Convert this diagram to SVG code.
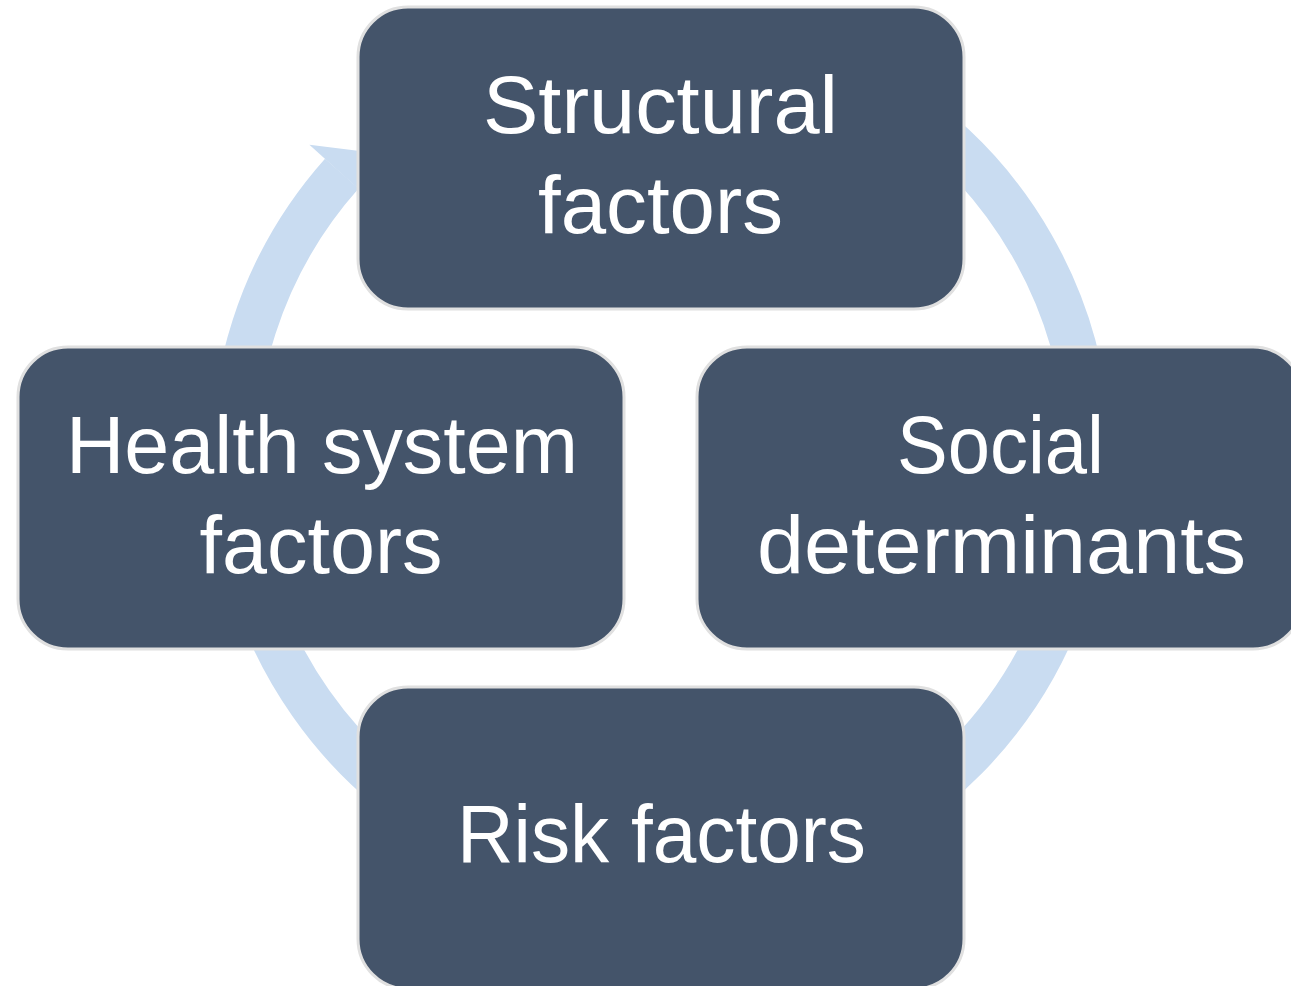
<svg xmlns="http://www.w3.org/2000/svg" width="1291" height="986" viewBox="0 0 1291 986">
  <style>
    .box { fill: #44546A; stroke: #E0E0E0; stroke-width: 3; }
    .lbl { font-family: "Liberation Sans", Arial, sans-serif; font-size: 82px; fill: #FFFFFF; text-anchor: middle; }
    .ring { fill: none; stroke: #C9DCF1; stroke-width: 45; }
    .head { fill: #C9DCF1; }
  </style>
  <rect width="1291" height="986" fill="#FFFFFF"/>
  <g id="connectors">
    <path class="ring" d="M735.2,37 A427.5,427.5 0 1 1 341.8,173.6"/>
    <polygon class="head" points="309.4,144.7 400,156 375,203.2 344,176"/>
  </g>
  <g id="node-structural">
    <rect class="box" x="358" y="7" width="606" height="302" rx="50" ry="50"/>
    <text class="lbl" x="660.5" y="133" textLength="355" lengthAdjust="spacingAndGlyphs">Structural</text>
    <text class="lbl" x="660.5" y="233" textLength="245" lengthAdjust="spacingAndGlyphs">factors</text>
  </g>
  <g id="node-social">
    <rect class="box" x="697" y="347" width="606" height="302" rx="50" ry="50"/>
    <text class="lbl" x="1000.5" y="473" textLength="207" lengthAdjust="spacingAndGlyphs">Social</text>
    <text class="lbl" x="1001.5" y="573" textLength="489" lengthAdjust="spacingAndGlyphs">determinants</text>
  </g>
  <g id="node-risk">
    <rect class="box" x="358" y="687" width="606" height="302" rx="50" ry="50"/>
    <text class="lbl" x="661.5" y="862" textLength="409" lengthAdjust="spacingAndGlyphs">Risk factors</text>
  </g>
  <g id="node-health">
    <rect class="box" x="18" y="347" width="606" height="302" rx="50" ry="50"/>
    <text class="lbl" x="322" y="473" textLength="512" lengthAdjust="spacingAndGlyphs">Health system</text>
    <text class="lbl" x="321" y="573" textLength="243" lengthAdjust="spacingAndGlyphs">factors</text>
  </g>
</svg>
